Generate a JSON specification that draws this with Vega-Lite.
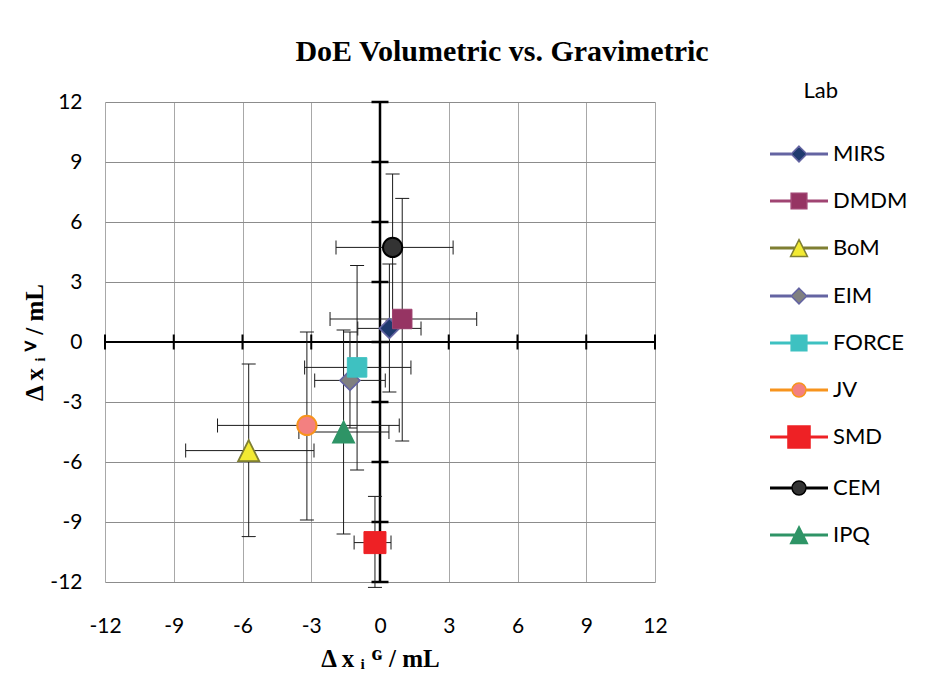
{
  "$schema": "https://vega.github.io/schema/vega-lite/v6.json",
  "width": 550,
  "height": 480,
  "autosize": {"type": "none"},
  "padding": {"left": 105, "top": 102, "right": 270, "bottom": 97},
  "background": "white",
  "title": {"text": "DoE Volumetric vs. Gravimetric", "font": "Liberation Serif", "fontSize": 30, "fontWeight": "bold", "color": "black", "anchor": "middle", "frame": "group", "dx": 122, "offset": -10, "baseline": "alphabetic"},
  "datasets": {
    "labs": [
      {"lab": "MIRS", "x": 0.41, "y": 0.68, "xlo": -0.97, "xhi": 1.79, "ylo": -2.5, "yhi": 3.9},
      {"lab": "DMDM", "x": 0.97, "y": 1.15, "xlo": -2.18, "xhi": 4.22, "ylo": -4.95, "yhi": 7.18},
      {"lab": "BoM", "x": -5.73, "y": -5.43, "xlo": -8.48, "xhi": -2.88, "ylo": -9.73, "yhi": -1.1},
      {"lab": "EIM", "x": -1.31, "y": -1.92, "xlo": -2.85, "xhi": 0.23, "ylo": -4.3, "yhi": 0.5},
      {"lab": "FORCE", "x": -1.0, "y": -1.27, "xlo": -3.29, "xhi": 1.35, "ylo": -6.4, "yhi": 3.83},
      {"lab": "JV", "x": -3.19, "y": -4.17, "xlo": -7.09, "xhi": 0.84, "ylo": -8.9, "yhi": 0.5},
      {"lab": "SMD", "x": -0.22, "y": -10.03, "xlo": -1.13, "xhi": 0.48, "ylo": -12.27, "yhi": -7.72},
      {"lab": "CEM", "x": 0.55, "y": 4.73, "xlo": -1.92, "xhi": 3.19, "ylo": 1.06, "yhi": 8.4},
      {"lab": "IPQ", "x": -1.59, "y": -4.5, "xlo": -3.54, "xhi": 0.39, "ylo": -9.6, "yhi": 0.6}
    ],
    "ticks": [{"v": -12}, {"v": -9}, {"v": -6}, {"v": -3}, {"v": 0}, {"v": 3}, {"v": 6}, {"v": 9}, {"v": 12}],
    "origin": [{"v": 0}]
  },
  "data": {"name": "labs"},
  "layer": [
    {
      "mark": {"type": "point", "filled": true, "opacity": 0},
      "encoding": {
        "x": {"field": "x", "type": "quantitative", "scale": {"domain": [-12, 12], "nice": false, "zero": false}, "title": "Δ x ᵢ ᴳ / mL", "axis": {"values": [-12, -9, -6, -3, 0, 3, 6, 9, 12], "labelExpr": "datum.value < 0 ? '-' + abs(datum.value) : '' + datum.value"}},
        "y": {"field": "y", "type": "quantitative", "scale": {"domain": [-12, 12], "nice": false, "zero": false}, "title": "Δ x ᵢ ⱽ / mL", "axis": {"values": [-12, -9, -6, -3, 0, 3, 6, 9, 12], "labelExpr": "datum.value < 0 ? '-' + abs(datum.value) : '' + datum.value"}},
        "shape": {
          "field": "lab", "type": "nominal",
          "scale": {
            "domain": ["MIRS", "DMDM", "BoM", "EIM", "FORCE", "JV", "SMD", "CEM", "IPQ"],
            "range": [
              "M-1 -0.025 H-0.27 M-1 0 H-0.27 M-1 0.025 H-0.27 M0.27 -0.025 H1 M0.27 0 H1 M0.27 0.025 H1 M0 -0.27 L0.27 0 L0 0.27 L-0.27 0 Z",
              "M-1 -0.025 H-0.27 M-1 0 H-0.27 M-1 0.025 H-0.27 M0.27 -0.025 H1 M0.27 0 H1 M0.27 0.025 H1 M-0.27 -0.27 H0.27 V0.27 H-0.27 Z",
              "M-1 -0.025 H-0.145 M-1 0 H-0.145 M-1 0.025 H-0.145 M0.145 -0.025 H1 M0.145 0 H1 M0.145 0.025 H1 M0 -0.29 L0.29 0.29 L-0.29 0.29 Z",
              "M-1 -0.025 H-0.27 M-1 0 H-0.27 M-1 0.025 H-0.27 M0.27 -0.025 H1 M0.27 0 H1 M0.27 0.025 H1 M0 -0.27 L0.27 0 L0 0.27 L-0.27 0 Z",
              "M-1 -0.025 H-0.27 M-1 0 H-0.27 M-1 0.025 H-0.27 M0.27 -0.025 H1 M0.27 0 H1 M0.27 0.025 H1 M-0.27 -0.27 H0.27 V0.27 H-0.27 Z",
              "M-1 -0.025 H-0.24 M-1 0 H-0.24 M-1 0.025 H-0.24 M0.24 -0.025 H1 M0.24 0 H1 M0.24 0.025 H1 M0.24 0 A0.24 0.24 0 1 1 -0.24 0 A0.24 0.24 0 1 1 0.24 0 Z",
              "M-1 -0.025 H-0.38 M-1 0 H-0.38 M-1 0.025 H-0.38 M0.38 -0.025 H1 M0.38 0 H1 M0.38 0.025 H1 M-0.38 -0.38 H0.38 V0.38 H-0.38 Z",
              "M-1 -0.025 H-0.24 M-1 0 H-0.24 M-1 0.025 H-0.24 M0.24 -0.025 H1 M0.24 0 H1 M0.24 0.025 H1 M0.24 0 A0.24 0.24 0 1 1 -0.24 0 A0.24 0.24 0 1 1 0.24 0 Z",
              "M-1 -0.025 H-0.145 M-1 0 H-0.145 M-1 0.025 H-0.145 M0.145 -0.025 H1 M0.145 0 H1 M0.145 0.025 H1 M0 -0.29 L0.29 0.29 L-0.29 0.29 Z"
            ]
          },
          "legend": {
            "title": "Lab", "orient": "none", "legendX": 664, "legendY": -21,
            "symbolSize": 3364, "symbolStrokeWidth": 1.5, "symbolOpacity": 1,
            "labelFont": "Lato", "labelFontSize": 22, "labelColor": "black", "labelOffset": 4, "labelLimit": 0,
            "titleFont": "Lato", "titleFontSize": 22, "titleFontWeight": "normal", "titleColor": "black", "titlePadding": 21,
            "titleAnchor": "middle", "titleAlign": "right",
            "rowPadding": 6,
            "encode": {
              "symbols": {"update": {"fill": {"scale": "fill", "field": "value"}, "stroke": {"scale": "stroke", "field": "value"}, "opacity": {"value": 1}, "fillOpacity": {"value": 1}, "strokeOpacity": {"value": 1}}}
            }
          }
        }
      }
    },
    {
      "data": {"name": "origin"},
      "mark": {"type": "rule", "color": "black", "strokeWidth": 2},
      "encoding": {"y": {"field": "v", "type": "quantitative"}}
    },
    {
      "data": {"name": "origin"},
      "mark": {"type": "rule", "color": "black", "strokeWidth": 2.5},
      "encoding": {"x": {"field": "v", "type": "quantitative"}}
    },
    {
      "data": {"name": "ticks"},
      "mark": {"type": "tick", "orient": "vertical", "color": "black", "size": 15, "thickness": 2, "opacity": 1},
      "encoding": {"x": {"field": "v", "type": "quantitative"}, "y": {"datum": 0}}
    },
    {
      "data": {"name": "ticks"},
      "mark": {"type": "tick", "orient": "horizontal", "color": "black", "size": 17, "thickness": 2.5, "opacity": 1},
      "encoding": {"y": {"field": "v", "type": "quantitative"}, "x": {"datum": 0}}
    },
    {
      "mark": {"type": "rule", "color": "#1a1a1a", "strokeWidth": 1},
      "encoding": {"x": {"field": "xlo", "type": "quantitative"}, "x2": {"field": "xhi"}, "y": {"field": "y", "type": "quantitative"}}
    },
    {
      "mark": {"type": "rule", "color": "#1a1a1a", "strokeWidth": 1},
      "encoding": {"y": {"field": "ylo", "type": "quantitative"}, "y2": {"field": "yhi"}, "x": {"field": "x", "type": "quantitative"}}
    },
    {
      "mark": {"type": "tick", "orient": "vertical", "color": "#1a1a1a", "size": 14, "thickness": 1, "opacity": 1},
      "encoding": {"x": {"field": "xlo", "type": "quantitative"}, "y": {"field": "y", "type": "quantitative"}}
    },
    {
      "mark": {"type": "tick", "orient": "vertical", "color": "#1a1a1a", "size": 14, "thickness": 1, "opacity": 1},
      "encoding": {"x": {"field": "xhi", "type": "quantitative"}, "y": {"field": "y", "type": "quantitative"}}
    },
    {
      "mark": {"type": "tick", "orient": "horizontal", "color": "#1a1a1a", "size": 14, "thickness": 1, "opacity": 1},
      "encoding": {"y": {"field": "ylo", "type": "quantitative"}, "x": {"field": "x", "type": "quantitative"}}
    },
    {
      "mark": {"type": "tick", "orient": "horizontal", "color": "#1a1a1a", "size": 14, "thickness": 1, "opacity": 1},
      "encoding": {"y": {"field": "yhi", "type": "quantitative"}, "x": {"field": "x", "type": "quantitative"}}
    },
    {
      "transform": [{"filter": {"field": "lab", "oneOf": ["MIRS", "EIM"]}}],
      "mark": {"type": "point", "shape": "diamond", "filled": true, "size": 400, "strokeWidth": 1.5, "opacity": 1},
      "encoding": {
        "x": {"field": "x", "type": "quantitative"},
        "y": {"field": "y", "type": "quantitative"},
        "fill": {"field": "lab", "type": "nominal", "legend": null, "scale": {"domain": ["MIRS", "DMDM", "BoM", "EIM", "FORCE", "JV", "SMD", "CEM", "IPQ"], "range": ["#1f3a6e", "#963463", "#f2ea32", "#808080", "#3ec1c1", "#f38080", "#ee2125", "#333333", "#2e9466"]}},
        "stroke": {"field": "lab", "type": "nominal", "legend": null, "scale": {"domain": ["MIRS", "DMDM", "BoM", "EIM", "FORCE", "JV", "SMD", "CEM", "IPQ"], "range": ["#6464a2", "#a04472", "#7f7f32", "#6464a2", "#3ec1c1", "#f7941d", "#ee2125", "#000000", "#2e9466"]}}
      }
    },
    {
      "transform": [{"filter": {"field": "lab", "oneOf": ["DMDM", "FORCE"]}}],
      "mark": {"type": "point", "shape": "square", "filled": true, "size": 380, "strokeWidth": 1, "opacity": 1},
      "encoding": {
        "x": {"field": "x", "type": "quantitative"},
        "y": {"field": "y", "type": "quantitative"},
        "fill": {"field": "lab", "type": "nominal", "legend": null},
        "stroke": {"field": "lab", "type": "nominal", "legend": null}
      }
    },
    {
      "transform": [{"filter": {"field": "lab", "oneOf": ["SMD"]}}],
      "mark": {"type": "point", "shape": "square", "filled": true, "size": 484, "strokeWidth": 1, "opacity": 1},
      "encoding": {
        "x": {"field": "x", "type": "quantitative"},
        "y": {"field": "y", "type": "quantitative"},
        "fill": {"field": "lab", "type": "nominal", "legend": null},
        "stroke": {"field": "lab", "type": "nominal", "legend": null}
      }
    },
    {
      "transform": [{"filter": {"field": "lab", "oneOf": ["BoM", "IPQ"]}}],
      "mark": {"type": "point", "shape": "M0 -1 L1 1 L-1 1 Z", "filled": true, "size": 441, "strokeWidth": 1.8, "opacity": 1},
      "encoding": {
        "x": {"field": "x", "type": "quantitative"},
        "y": {"field": "y", "type": "quantitative"},
        "fill": {"field": "lab", "type": "nominal", "legend": null},
        "stroke": {"field": "lab", "type": "nominal", "legend": null}
      }
    },
    {
      "transform": [{"filter": {"field": "lab", "oneOf": ["JV", "CEM"]}}],
      "mark": {"type": "point", "shape": "circle", "filled": true, "size": 370, "strokeWidth": 2, "opacity": 1},
      "encoding": {
        "x": {"field": "x", "type": "quantitative"},
        "y": {"field": "y", "type": "quantitative"},
        "fill": {"field": "lab", "type": "nominal", "legend": null},
        "stroke": {"field": "lab", "type": "nominal", "legend": null}
      }
    }
  ],
  "config": {
    "view": {"stroke": null},
    "font": "Lato",
    "axis": {"labelFont": "Lato", "labelFontSize": 21, "labelColor": "black", "domain": false, "ticks": false, "grid": true, "gridWidth": 1, "gridOpacity": 1, "titleFont": "Liberation Serif", "titleFontWeight": "bold", "titleFontSize": 25, "titleColor": "black", "labelFlush": false, "labelOverlap": false},
    "axisX": {"gridColor": "#a8a8a8", "labelPadding": 33, "titlePadding": 10},
    "axisY": {"gridColor": "#8c8c8c", "labelPadding": 23, "titlePadding": 2}
  }
}
